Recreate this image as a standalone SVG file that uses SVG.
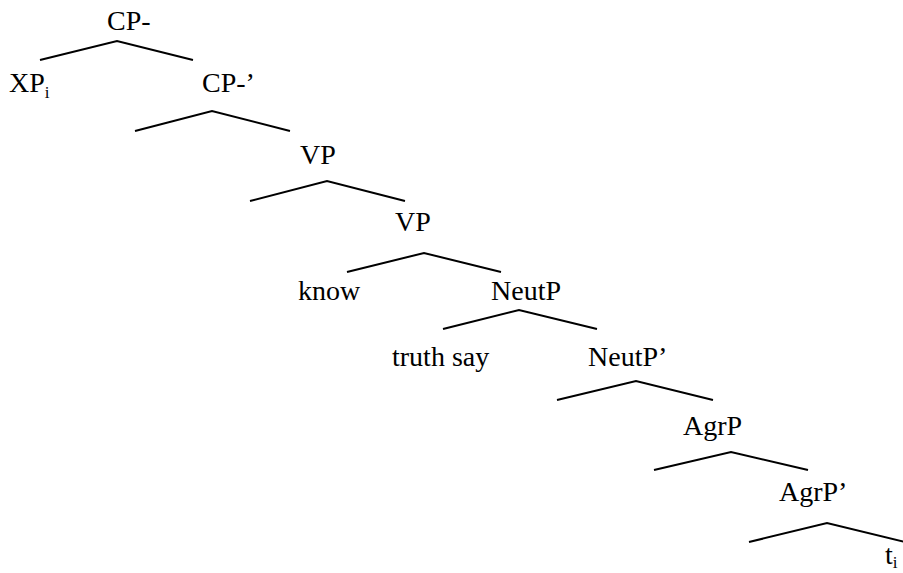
<svg xmlns="http://www.w3.org/2000/svg" width="903" height="573" viewBox="0 0 903 573">
<style>
.t{font-family:'Liberation Serif','Times New Roman',Times,serif;font-size:28px;fill:#000}
.sub{font-size:17px}
.e{fill:none;stroke:#000;stroke-width:2}
</style>
<rect width="903" height="573" fill="#fff"/>
<g id="connectors">
<polyline class="e" points="40,60 117,41 193,60"/>
<polyline class="e" points="135,131 212,111 290,131"/>
<polyline class="e" points="250,201 327,181 405,201"/>
<polyline class="e" points="347,272 424,253 501,272"/>
<polyline class="e" points="443,329 519,310 597,329"/>
<polyline class="e" points="557,400 636,381 713,400"/>
<polyline class="e" points="654,470 731,452 808,470"/>
<polyline class="e" points="749,542 827,523 905,542"/>
</g>
<g id="n-cp"><text class="t" x="107" y="30">CP-</text></g>
<g id="n-xp"><text class="t" x="9" y="92">XP<tspan class="sub" dy="6">i</tspan></text></g>
<g id="n-cpbar"><text class="t" x="202" y="92">CP-’</text></g>
<g id="n-vp1"><text class="t" x="300" y="164">VP</text></g>
<g id="n-vp2"><text class="t" x="395" y="231">VP</text></g>
<g id="n-know"><text class="t" x="298" y="300">know</text></g>
<g id="n-neutp"><text class="t" x="491" y="300">NeutP</text></g>
<g id="n-truthsay"><text class="t" x="392" y="366">truth say</text></g>
<g id="n-neutpbar"><text class="t" x="588" y="366">NeutP’</text></g>
<g id="n-agrp"><text class="t" x="683" y="435">AgrP</text></g>
<g id="n-agrpbar"><text class="t" x="779" y="501">AgrP’</text></g>
<g id="n-t"><text class="t" x="885" y="564">t<tspan class="sub" dy="4">i</tspan></text></g>
</svg>
